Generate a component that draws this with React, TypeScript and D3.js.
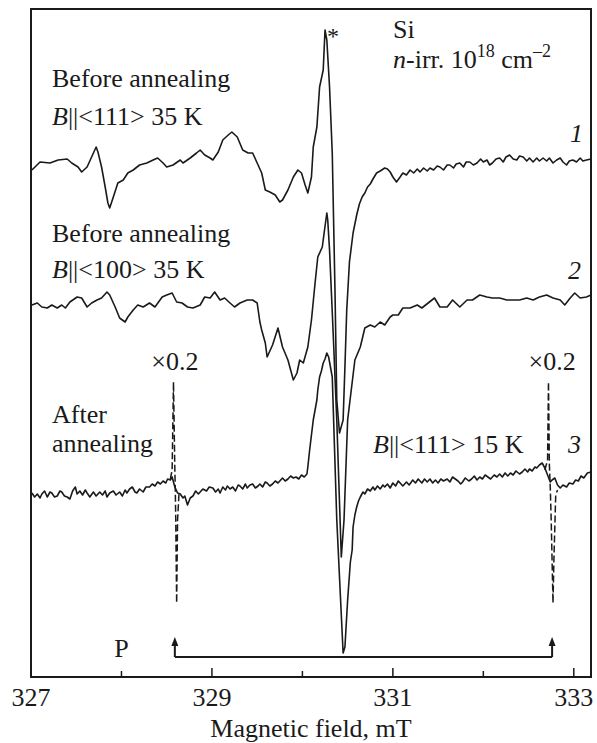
import React from "react";
import * as d3 from "d3";

// Magnetic field (mT) vs EPR signal (arbitrary units, offset per trace)
const trace1: [number, number][] = [
  [327.01, 50.7], [327.10, 51.5], [327.21, 51.4], [327.30, 51.7], [327.40, 51.8], [327.45, 51.4],
  [327.52, 51.0], [327.56, 50.5], [327.62, 51.0], [327.67, 52.0], [327.72, 53.0], [327.74, 52.5],
  [327.78, 51.0], [327.82, 49.0], [327.85, 47.4], [327.87, 46.9], [327.91, 48.0], [327.96, 49.4],
  [328.02, 49.7], [328.07, 50.4], [328.13, 50.7], [328.20, 51.2], [328.28, 51.4], [328.35, 51.7],
  [328.40, 51.9], [328.46, 51.4], [328.50, 51.0], [328.57, 51.2], [328.65, 51.7], [328.68, 51.4],
  [328.76, 51.9], [328.83, 52.4], [328.87, 52.7], [328.92, 52.2], [328.98, 51.9], [329.01, 51.7],
  [329.07, 52.5], [329.12, 53.7], [329.18, 54.2], [329.22, 54.5], [329.28, 54.0], [329.34, 52.7],
  [329.40, 52.4], [329.45, 52.4], [329.50, 51.4], [329.55, 50.4], [329.59, 48.7], [329.64, 48.5],
  [329.70, 48.2], [329.75, 47.5], [329.78, 47.7], [329.84, 48.7], [329.90, 50.0], [329.95, 50.7],
  [329.99, 50.4], [330.03, 49.2], [330.06, 48.4], [330.10, 50.0], [330.12, 53.0], [330.16, 55.0],
  [330.19, 59.0], [330.23, 60.7], [330.25, 64.7], [330.27, 63.7], [330.30, 59.0], [330.33, 52.4],
  [330.36, 38.7], [330.38, 27.7], [330.41, 24.4], [330.45, 25.7], [330.47, 31.0], [330.49, 36.7],
  [330.52, 41.5], [330.56, 44.4], [330.60, 46.2], [330.63, 47.3], [330.66, 48.0], [330.69, 48.4],
  [330.72, 49.0], [330.75, 49.3], [330.78, 49.8], [330.82, 50.4], [330.86, 50.6], [330.91, 50.9],
  [330.94, 50.8], [330.97, 50.5], [331.00, 50.0], [331.04, 49.5], [331.08, 50.0], [331.11, 50.4],
  [331.15, 50.2], [331.19, 50.7], [331.23, 50.4], [331.27, 50.8], [331.30, 50.5], [331.34, 50.9],
  [331.38, 50.6], [331.41, 50.9], [331.45, 50.7], [331.49, 51.1], [331.52, 51.0], [331.56, 50.7],
  [331.60, 51.2], [331.63, 51.2], [331.67, 50.9], [331.70, 51.3], [331.74, 51.4], [331.78, 51.0],
  [331.81, 51.5], [331.85, 51.5], [331.89, 51.2], [331.93, 51.4], [331.97, 51.8], [332.00, 51.5],
  [332.04, 51.7], [332.07, 51.2], [332.10, 51.4], [332.14, 51.8], [332.18, 51.9], [332.22, 51.5],
  [332.25, 52.0], [332.29, 52.2], [332.33, 51.8], [332.37, 51.7], [332.40, 52.1], [332.44, 52.0],
  [332.48, 51.6], [332.51, 51.9], [332.55, 51.5], [332.59, 51.9], [332.62, 51.6], [332.66, 51.9],
  [332.70, 51.6], [332.73, 51.9], [332.77, 51.4], [332.81, 51.7], [332.85, 51.9], [332.88, 51.5],
  [332.92, 51.2], [332.95, 51.6], [332.99, 51.7], [333.03, 51.5], [333.07, 51.9], [333.10, 51.6],
  [333.14, 51.7], [333.19, 51.8],
];

const trace2: [number, number][] = [
  [327.01, 37.2], [327.07, 37.4], [327.12, 37.0], [327.18, 36.9], [327.23, 37.2], [327.29, 36.9],
  [327.34, 37.2], [327.38, 36.9], [327.43, 37.5], [327.51, 38.0], [327.56, 37.9], [327.62, 37.0],
  [327.67, 37.4], [327.73, 37.7], [327.78, 37.9], [327.84, 38.5], [327.87, 38.2], [327.93, 37.0],
  [327.98, 35.9], [328.04, 35.5], [328.07, 36.0], [328.13, 36.7], [328.18, 37.2], [328.24, 37.0],
  [328.31, 37.4], [328.37, 37.0], [328.45, 38.0], [328.50, 38.2], [328.56, 38.4], [328.61, 37.5],
  [328.67, 37.4], [328.73, 37.0], [328.79, 36.9], [328.87, 37.2], [328.92, 38.0], [328.98, 37.9],
  [329.03, 38.5], [329.09, 37.7], [329.14, 37.9], [329.20, 37.4], [329.25, 37.0], [329.31, 37.4],
  [329.39, 37.7], [329.45, 37.7], [329.50, 37.4], [329.53, 35.5], [329.55, 34.7], [329.59, 33.4],
  [329.61, 32.0], [329.67, 33.2], [329.73, 34.9], [329.78, 33.0], [329.84, 31.7], [329.90, 29.7],
  [329.94, 30.4], [329.97, 31.7], [330.01, 31.4], [330.06, 33.0], [330.10, 35.7], [330.14, 39.4],
  [330.17, 42.0], [330.22, 43.0], [330.24, 44.4], [330.27, 46.4], [330.28, 45.7], [330.30, 42.7],
  [330.34, 34.4], [330.38, 25.7], [330.43, 12.0], [330.46, 15.7], [330.50, 25.7], [330.58, 31.7],
  [330.64, 33.0], [330.69, 34.9], [330.75, 35.2], [330.80, 35.0], [330.86, 35.5], [330.91, 35.2],
  [330.97, 36.0], [331.00, 36.2], [331.06, 36.2], [331.11, 36.9], [331.19, 36.9], [331.27, 37.2],
  [331.32, 36.9], [331.39, 37.4], [331.46, 37.9], [331.52, 37.0], [331.60, 37.0], [331.66, 37.7],
  [331.74, 37.0], [331.82, 37.7], [331.88, 37.7], [331.96, 38.2], [332.04, 38.0], [332.10, 37.9],
  [332.18, 37.9], [332.26, 37.7], [332.33, 37.7], [332.40, 37.7], [332.48, 37.9], [332.55, 37.7],
  [332.62, 38.0], [332.70, 38.2], [332.77, 37.9], [332.85, 37.7], [332.90, 37.2], [332.96, 37.9],
  [333.01, 38.4], [333.07, 37.9], [333.14, 38.0], [333.19, 38.2],
];

const trace3: [number, number][] = [
  [327.01, 18.4], [327.04, 18.0], [327.07, 18.3], [327.10, 17.9], [327.12, 18.3], [327.15, 18.6],
  [327.18, 18.0], [327.21, 18.5], [327.23, 18.4], [327.26, 18.0], [327.29, 18.1], [327.32, 18.6],
  [327.34, 18.5], [327.37, 18.1], [327.40, 18.0], [327.43, 17.8], [327.46, 18.6], [327.49, 19.0],
  [327.51, 18.3], [327.54, 18.6], [327.57, 18.2], [327.60, 18.7], [327.62, 18.4], [327.65, 18.0],
  [327.69, 18.5], [327.72, 18.1], [327.76, 18.5], [327.79, 18.2], [327.82, 18.6], [327.84, 18.0],
  [327.87, 18.4], [327.91, 18.6], [327.94, 18.2], [327.98, 18.5], [328.01, 18.1], [328.04, 18.7],
  [328.06, 18.4], [328.09, 18.8], [328.12, 19.0], [328.15, 18.5], [328.17, 18.4], [328.20, 18.8],
  [328.24, 18.5], [328.27, 19.0], [328.31, 19.0], [328.34, 19.3], [328.37, 19.1], [328.40, 19.5],
  [328.43, 19.3], [328.46, 19.6], [328.49, 19.4], [328.51, 19.8], [328.54, 19.7], [328.56, 20.0],
  [328.59, 19.0], [328.62, 18.4], [328.65, 18.3], [328.68, 17.9], [328.70, 18.1], [328.73, 17.2],
  [328.76, 17.9], [328.79, 18.1], [328.82, 18.6], [328.85, 18.3], [328.87, 18.5], [328.90, 18.8],
  [328.94, 18.6], [328.97, 19.0], [329.01, 18.9], [329.04, 18.5], [329.07, 18.8], [329.09, 18.4],
  [329.12, 19.0], [329.15, 18.7], [329.17, 19.1], [329.20, 18.8], [329.23, 19.0], [329.26, 18.6],
  [329.29, 19.2], [329.31, 19.1], [329.34, 18.8], [329.37, 19.3], [329.39, 18.9], [329.42, 19.2],
  [329.45, 19.3], [329.48, 18.9], [329.51, 19.1], [329.53, 19.3], [329.56, 19.0], [329.59, 19.5],
  [329.61, 19.4], [329.64, 19.1], [329.67, 19.3], [329.70, 19.6], [329.73, 19.4], [329.75, 19.6],
  [329.78, 19.9], [329.81, 19.6], [329.84, 19.8], [329.87, 20.1], [329.90, 19.9], [329.93, 20.0],
  [329.96, 19.8], [329.99, 20.2], [330.02, 20.0], [330.05, 20.3], [330.06, 21.0], [330.08, 22.7],
  [330.12, 25.7], [330.16, 27.7], [330.17, 28.7], [330.19, 30.0], [330.21, 30.6], [330.23, 31.4],
  [330.25, 31.8], [330.27, 32.4], [330.29, 32.0], [330.31, 31.0], [330.33, 30.0], [330.38, 15.7],
  [330.45, 2.4], [330.47, 3.0], [330.50, 7.7], [330.53, 11.5], [330.55, 12.7], [330.56, 15.0],
  [330.58, 16.2], [330.60, 17.0], [330.62, 17.6], [330.64, 18.0], [330.67, 18.5], [330.69, 18.3],
  [330.72, 18.8], [330.75, 18.6], [330.78, 19.0], [330.80, 18.7], [330.83, 19.1], [330.86, 18.8],
  [330.89, 19.2], [330.91, 19.0], [330.94, 19.3], [330.97, 18.9], [331.00, 19.4], [331.03, 19.1],
  [331.06, 19.6], [331.08, 19.4], [331.11, 19.1], [331.15, 19.5], [331.18, 19.2], [331.22, 19.7],
  [331.25, 19.4], [331.28, 19.8], [331.32, 19.4], [331.35, 19.8], [331.38, 19.5], [331.41, 19.8],
  [331.44, 19.4], [331.47, 19.7], [331.50, 19.4], [331.53, 19.8], [331.56, 19.6], [331.60, 19.8],
  [331.63, 19.5], [331.66, 20.0], [331.69, 19.8], [331.72, 19.6], [331.75, 19.3], [331.77, 19.5],
  [331.80, 19.9], [331.84, 19.6], [331.87, 19.8], [331.90, 20.1], [331.93, 19.7], [331.96, 20.0],
  [331.99, 19.8], [332.02, 20.2], [332.05, 20.0], [332.08, 19.8], [332.12, 20.2], [332.15, 20.0],
  [332.18, 20.3], [332.21, 20.0], [332.24, 20.4], [332.27, 20.1], [332.30, 20.4], [332.33, 20.2],
  [332.36, 20.6], [332.40, 20.3], [332.43, 20.5], [332.46, 20.8], [332.49, 20.5], [332.51, 20.8],
  [332.54, 20.6], [332.57, 21.0], [332.59, 20.9], [332.62, 21.2], [332.65, 21.4], [332.68, 20.9],
  [332.71, 20.2], [332.74, 19.5], [332.76, 19.7], [332.79, 19.9], [332.82, 19.2], [332.85, 18.9],
  [332.88, 19.2], [332.92, 19.0], [332.95, 19.4], [332.99, 19.3], [333.02, 19.7], [333.05, 19.6],
  [333.08, 20.1], [333.11, 19.9], [333.15, 20.4], [333.19, 20.5],
];

// ×0.2 phosphorus hyperfine lines (dashed)
const hfLow: [number, number][] = [
  [328.54, 19.8], [328.56, 20.7], [328.575, 29.5], [328.59, 20.7], [328.595, 18.7],
  [328.60, 15.7], [328.61, 7.4], [328.62, 15.7], [328.635, 18.2], [328.655, 18.5],
];
const hfHigh: [number, number][] = [
  [332.68, 20.7], [332.71, 21.7], [332.72, 29.5], [332.73, 21.2], [332.74, 18.9],
  [332.75, 15.7], [332.77, 7.4], [332.78, 11.7], [332.80, 18.2], [332.82, 18.7],
];

const pLines = [328.59, 332.76];
const majorTicks = [327, 329, 331, 333];
const minorTicks = [328, 330, 332];

const W = 597;
const H = 743;
const font = "'Liberation Serif', 'Times New Roman', serif";

export default function App() {
  const x = d3.scaleLinear().domain([327, 333.19]).range([31, 591]);
  const y = d3.scaleLinear().domain([0, 66.9]).range([677, 8]);
  const line = d3
    .line<[number, number]>()
    .x((d) => x(d[0]))
    .y((d) => y(d[1]));

  const ink = "#1a1a1a";
  const arrowY = y(2.0);
  const arrowTip = y(4.0);

  return (
    <svg
      width={W}
      height={H}
      viewBox={`0 0 ${W} ${H}`}
      style={{ position: "absolute", left: 0, top: 0, background: "#fff" }}
      fontFamily={font}
    >
      <rect x={0} y={0} width={W} height={H} fill="#fff" />
      {/* frame */}
      <rect x={31} y={9} width={560} height={668} fill="none" stroke={ink} strokeWidth={2} />
      {/* ticks */}
      {majorTicks.map((t) => (
        <line key={"M" + t} x1={x(t)} x2={x(t)} y1={677} y2={668} stroke={ink} strokeWidth={1.5} />
      ))}
      {minorTicks.map((t) => (
        <line key={"m" + t} x1={x(t)} x2={x(t)} y1={677} y2={671} stroke={ink} strokeWidth={1.5} />
      ))}
      {majorTicks.map((t) => (
        <text key={"L" + t} x={x(t)} y={706} fontSize={26} textAnchor="middle" fill={ink}>
          {t}
        </text>
      ))}
      <text x={311} y={737} fontSize={26} textAnchor="middle" fill={ink}>
        Magnetic field, mT
      </text>

      {/* traces */}
      {[trace1, trace2, trace3].map((tr, i) => (
        <path key={"t" + i} d={line(tr) || ""} fill="none" stroke={ink} strokeWidth={1.6} strokeLinejoin="round" />
      ))}
      {[hfLow, hfHigh].map((tr, i) => (
        <path key={"h" + i} d={line(tr) || ""} fill="none" stroke={ink} strokeWidth={1.5} strokeDasharray="7,3" />
      ))}

      {/* P doublet arrow */}
      <line x1={x(pLines[0])} x2={x(pLines[1])} y1={arrowY} y2={arrowY} stroke={ink} strokeWidth={2} />
      {pLines.map((p) => (
        <g key={"p" + p}>
          <line x1={x(p)} x2={x(p)} y1={arrowY} y2={arrowTip + 6} stroke={ink} strokeWidth={2} />
          <path d={`M${x(p)},${arrowTip} L${x(p) - 3.5},${arrowTip + 9} L${x(p) + 3.5},${arrowTip + 9} Z`} fill={ink} />
        </g>
      ))}
      <text x={x(328.0)} y={657} fontSize={26} textAnchor="middle" fill={ink}>
        P
      </text>
      {pLines.map((p) => (
        <text key={"s" + p} x={x(p)} y={370} fontSize={26} textAnchor="middle" fill={ink}>
          ×0.2
        </text>
      ))}

      {/* labels */}
      <text x={327} y={44} fontSize={24} fill={ink}>*</text>
      <text x={52} y={87} fontSize={26} fill={ink}>Before annealing</text>
      <text x={52} y={125} fontSize={26} fill={ink}>
        <tspan fontStyle="italic">B</tspan>
        {"||<111> 35 K"}
      </text>
      <text x={52} y={242} fontSize={26} fill={ink}>Before annealing</text>
      <text x={52} y={278} fontSize={26} fill={ink}>
        <tspan fontStyle="italic">B</tspan>
        {"||<100> 35 K"}
      </text>
      <text x={52} y={423} fontSize={26} fill={ink}>After</text>
      <text x={52} y={452} fontSize={26} fill={ink}>annealing</text>
      <text x={373} y={453} fontSize={26} fill={ink}>
        <tspan fontStyle="italic">B</tspan>
        {"||<111> 15 K"}
      </text>
      <text x={393} y={38} fontSize={26} fill={ink}>Si</text>
      <text x={393} y={68} fontSize={26} fill={ink}>
        <tspan fontStyle="italic">n</tspan>
        {"-irr. 10"}
        <tspan fontSize={18} dy={-11}>18</tspan>
        <tspan fontSize={26} dy={11}>{" cm"}</tspan>
        <tspan fontSize={18} dy={-11}>–2</tspan>
      </text>
      <text x={570} y={142} fontSize={26} fontStyle="italic" fill={ink}>1</text>
      <text x={568} y={279} fontSize={26} fontStyle="italic" fill={ink}>2</text>
      <text x={568} y={453} fontSize={26} fontStyle="italic" fill={ink}>3</text>
    </svg>
  );
}
